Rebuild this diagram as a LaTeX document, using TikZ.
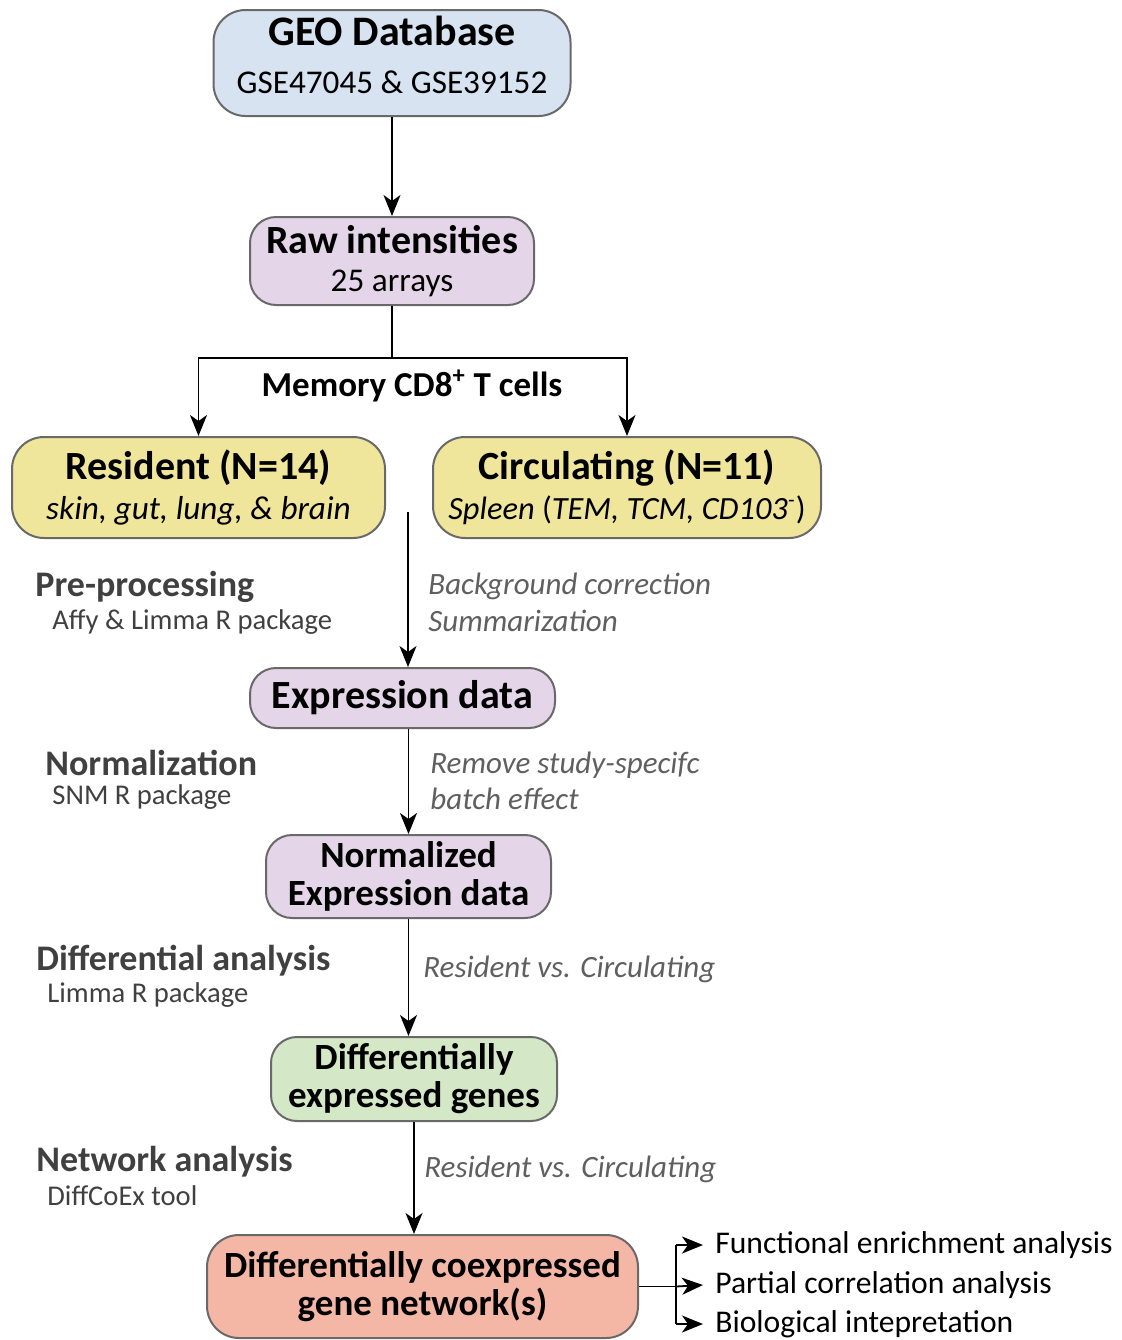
\documentclass[tikz,border=0pt]{standalone}
\usepackage{fontspec}
\setmainfont{Carlito}
\usepackage{tikz}
\usetikzlibrary{arrows.meta,positioning,calc}
\definecolor{geoblue}{RGB}{216,227,242}
\definecolor{lavender}{RGB}{228,214,232}
\definecolor{sand}{RGB}{239,229,155}
\definecolor{mint}{RGB}{212,232,200}
\definecolor{salmon}{RGB}{245,183,165}
\definecolor{edgegray}{RGB}{105,105,105}
\definecolor{labelgray}{RGB}{64,64,64}
\definecolor{notegray}{RGB}{95,95,95}
\tikzstyle{stage} = [draw=edgegray,line width=1pt,rounded corners=13pt,inner sep=0pt,align=center,font=\fontsize{20}{19}\selectfont\bfseries]
\tikzstyle{flow} = [line width=0.9pt,-{Stealth[length=10.5pt,width=8.5pt,inset=3pt]}]
\tikzstyle{phase} = [anchor=west,inner sep=0pt,text=labelgray,font=\fontsize{18}{20}\selectfont\bfseries]
\tikzstyle{tool} = [anchor=west,inner sep=0pt,text=labelgray,font=\fontsize{14.3}{16}\selectfont]
\tikzstyle{note} = [anchor=west,inner sep=0pt,text=notegray,font=\fontsize{15.5}{17}\selectfont\itshape]
\tikzstyle{result} = [anchor=west,inner sep=0pt,font=\fontsize{15.8}{18}\selectfont]
\newcommand{\subline}{\fontsize{16.6}{19}\selectfont\mdseries}
\newcommand{\smallhead}{\fontsize{18.5}{18}\selectfont}
\begin{document}
\begin{tikzpicture}[x=0.5pt,y=-0.5pt]
  \useasboundingbox (0,0) rectangle (1122,1340);
  \node (geo)[stage,fill=geoblue,minimum width=178.5pt,minimum height=53pt,rounded corners=16pt] at (392,63)
        {{\fontsize{21}{19}\selectfont GEO Database}\\[5pt]{\subline GSE47045 \& GSE39152\rule[-8pt]{0pt}{8pt}}};
  \node (raw)[stage,fill=lavender,minimum width=142pt,minimum height=44pt] at (392,261)
        {Raw intensities\\{\subline 25 arrays}};
  \node (res)[stage,fill=sand,minimum width=186.5pt,minimum height=50.5pt,rounded corners=16pt] at (198.5,487.5)
        {Resident (N=14)\\[1pt]{\subline\itshape skin, gut, lung, \& brain}};
  \node (circ)[stage,fill=sand,minimum width=194pt,minimum height=50.5pt,rounded corners=16pt] at (627,487.5)
        {Circulating (N=11)\\[1pt]{\fontsize{16.2}{19}\selectfont\mdseries\textit{Spleen} (\textit{TEM, TCM, CD103\textsuperscript{-}})}};
  \node (expr)[stage,fill=lavender,minimum width=152.5pt,minimum height=30pt] at (402.5,698)
        {Expression data};
  \node (norm)[stage,fill=lavender,minimum width=142.5pt,minimum height=41.5pt] at (408.5,876.5)
        {\smallhead Normalized\\\smallhead Expression data};
  \node (deg)[stage,fill=mint,minimum width=143pt,minimum height=42pt] at (414,1079)
        {\smallhead Differentially\\\smallhead expressed genes};
  \node (dcgn)[stage,fill=salmon,minimum width=215.5pt,minimum height=51.5pt,rounded corners=16pt] at (422.5,1286.5)
        {\smallhead Differentially coexpressed\\\smallhead gene network(s)};

  \node (memory)[font=\fontsize{17.5}{19}\selectfont\bfseries,inner sep=0pt] at (412,386) {Memory CD8\textsuperscript{+} T cells};

  \node (pre)[phase] at (35,587) {Pre-processing};
  \node (preTool)[tool] at (52,622) {Affy \& Limma R package};
  \node (preNote)[note] at (428,586) {Background correction};
  \node (preNoteB)[note] at (428,621) {Summarization};
  \node (normal)[phase] at (45,763) {Normalization};
  \node (normalTool)[tool] at (52,797) {SNM R package};
  \node (normalNote)[note] at (430,765) {Remove study-specifc};
  \node (normalNoteB)[note] at (430,799) {batch effect};
  \node (diff)[phase] at (36,961) {Differential analysis};
  \node (diffTool)[tool] at (47,995) {Limma R package};
  \node (diffNote)[note] at (423,969) {Resident vs. Circulating};
  \node (net)[phase] at (36,1162) {Network analysis};
  \node (netTool)[tool] at (47,1196) {DiffCoEx tool};
  \node (netNote)[note] at (424,1169) {Resident vs. Circulating};

  \node (out1)[result] at (715,1245) {Functional enrichment analysis};
  \node (out2)[result] at (715,1285) {Partial correlation analysis};
  \node (out3)[result] at (715,1324) {Biological intepretation};

  \coordinate (split) at (392,358);
  \coordinate (mid) at (408,512);
  \coordinate (fan) at (676,1286.5);

  \draw[flow] (geo) -- (raw);
  \draw[line width=0.9pt] (raw) -- (split);
  \draw[flow] (split) -| (res);
  \draw[flow] (split) -| (circ);
  \draw[flow] (mid) -- (mid |- expr.north);
  \draw[flow] (norm |- expr.south) -- (norm.north);
  \draw[flow] (norm.south) -- (norm.south |- deg.north);
  \draw[flow] (deg.south) -- (deg.south |- dcgn.north);
  \draw[line width=0.9pt] (dcgn.east) -- (fan);
  \draw[line width=0.9pt] (fan |- out1) -- (fan |- out3);
  \draw[flow] (fan |- out1) -- ([xshift=-6pt]out1.west);
  \draw[flow] (fan) -- ([xshift=-6pt]out2.west);
  \draw[flow] (fan |- out3) -- ([xshift=-6pt]out3.west);
\end{tikzpicture}
\end{document}
